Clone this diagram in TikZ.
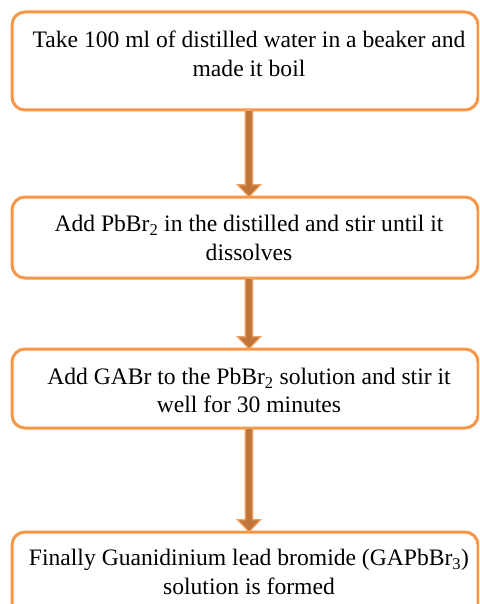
\documentclass[tikz,border=0pt]{standalone}
\usepackage{fontspec}
\setmainfont{Liberation Serif}
\usetikzlibrary{calc}
\definecolor{boxorange}{HTML}{F79646}
\definecolor{arrowfill}{HTML}{BF7638}
\definecolor{arrowline}{HTML}{F0A266}
\tikzset{
  stepbox/.style={draw=boxorange, line width=3pt, rounded corners=13pt, fill=white},
  steptext/.style={align=center, font=\fontsize{23.6}{28.5}\selectfont, text=black, inner sep=0pt},
  flowarrow/.style={draw=arrowline, fill=arrowfill, line width=1.2pt, line join=miter}
}
\newcommand{\flowarr}[2]{%
  \path let \p1=(#1), \p2=(#2) in
    [flowarrow] (\x1-3.8pt,\y1) -- (\x1-3.8pt,\y2+12pt) -- (\x1-11.5pt,\y2+12pt) -- (\x2,\y2)
    -- (\x1+11.5pt,\y2+12pt) -- (\x1+3.8pt,\y2+12pt) -- (\x1+3.8pt,\y1) -- cycle;%
}
\begin{document}
\begin{tikzpicture}[x=1pt,y=1pt]
\useasboundingbox (0,0) rectangle (479,-604);
\clip (0,0) rectangle (479,-604);
% boxes
\path[stepbox] (12,-12) rectangle (478,-110);
\node[minimum width=466pt, minimum height=98pt, inner sep=0pt] (b1) at (245,-61) {};
\path[stepbox] (12,-197) rectangle (478,-278);
\node[minimum width=466pt, minimum height=81pt, inner sep=0pt] (b2) at (245,-237.5) {};
\path[stepbox] (12,-349) rectangle (478,-428);
\node[minimum width=466pt, minimum height=79pt, inner sep=0pt] (b3) at (245,-388.5) {};
\path[stepbox] (12,-532) rectangle (478,-640);
\node[minimum width=466pt, minimum height=108pt, inner sep=0pt] (b4) at (245,-586) {};
% texts
\node[steptext] (t1) at (249,-54) {Take 100 ml of distilled water in a beaker and\\made it boil};
\node[steptext] (t2) at (249,-238) {Add PbBr\textsubscript{2} in the distilled and stir until it\\dissolves};
\node[steptext] (t3) at (249,-390.5) {Add GABr to the PbBr\textsubscript{2} solution and stir it\\well for 30 minutes};
\node[steptext] (t4) at (249,-572) {Finally Guanidinium lead bromide (GAPbBr\textsubscript{3})\\solution is formed};
% arrows
\flowarr{b1.south -| t1}{b2.north -| t1}
\flowarr{b2.south -| t2}{b3.north -| t2}
\flowarr{b3.south -| t3}{b4.north -| t3}
\end{tikzpicture}
\end{document}
